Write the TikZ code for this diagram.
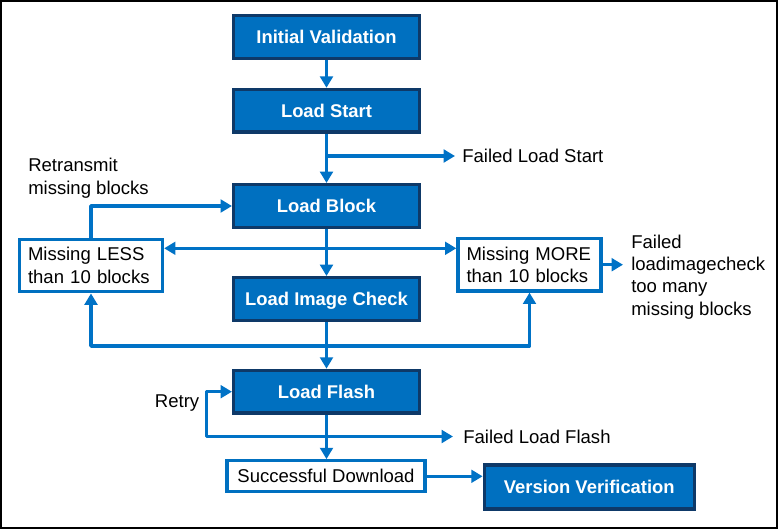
\documentclass[tikz,border=0pt]{standalone}
\usepackage{fontspec}
\setmainfont{Liberation Sans}
\usetikzlibrary{arrows.meta}
\definecolor{boxblue}{RGB}{0,112,192}
\definecolor{navyedge}{RGB}{14,57,104}
\definecolor{lineblue}{RGB}{0,114,198}
\begin{document}
\begin{tikzpicture}[x=0.75pt,y=-0.75pt,
  font=\fontsize{13.9}{16.8}\selectfont,
  bluebox/.style={draw=navyedge, line width=2.5pt, fill=boxblue, text=white,
    font=\fontsize{13.8}{16.8}\selectfont\bfseries, minimum width=139.3pt,
    minimum height=32pt, inner sep=0pt, text height=9.9pt, text depth=0pt},
  whitebox/.style={draw=boxblue, line width=2.4pt, fill=white, align=left,
    inner xsep=6.4pt, inner ysep=0pt, text width=94.5pt, minimum height=39.5pt},
  sdbox/.style={draw=boxblue, line width=2.4pt, fill=white, inner sep=0pt,
    minimum width=148.5pt, minimum height=23.3pt, text height=10pt, text depth=0pt},
  conn/.style={draw=lineblue, line width=2.6pt, line join=round,
    -{Triangle[length=8.5pt,width=9.5pt]}},
  lbl/.style={inner sep=0pt, align=left},
  onelbl/.style={inner sep=0pt, text height=10pt, text depth=0pt}]
\useasboundingbox (0,0) rectangle (778,529);
\draw[line width=1.125pt] (1,1) rectangle (777,528);

% main boxes
\node[bluebox] (iv) at (326.5,37) {Initial Validation};
\node[bluebox] (ls) at (326.5,110.75) {Load Start};
\node[bluebox] (lb) at (326.5,206) {Load Block};
\node[bluebox] (lic) at (326.5,299) {Load Image Check};
\node[bluebox] (lf) at (326.5,391.7) {Load Flash};
\node[sdbox] (sd) at (326,476.3) {Successful Download};
\node[bluebox, minimum width=157.5pt, minimum height=33pt] (vv) at (589.3,487) {Version Verification};
\node[whitebox] (less) at (91,265.5) {Missing LESS\\than 10 blocks};
\node[whitebox] (more) at (529.5,264.7) {Missing MORE\\than 10 blocks};

% labels
\node[onelbl, anchor=west] (flst) at (462,156) {Failed Load Start};
\node[onelbl, anchor=west] (flf) at (463,437) {Failed Load Flash};
\node[onelbl, anchor=east] (retry) at (199.5,400.7) {Retry};
\node[lbl, anchor=west] (rt) at (28,178.3) {Retransmit\\missing blocks};
\node[lbl, anchor=west] (fli) at (631,277) {Failed\\loadimagecheck\\too many\\missing blocks};

% helper coordinates
\coordinate (dy) at (0,248.3);
\coordinate (by) at (0,346);
\coordinate (rx) at (206.7,436.5);

% connectors
\draw[conn] (iv) -- (ls);
\draw[conn] (ls) -- (lb);
\draw[conn] (ls.south |- flst.west) -- ([xshift=-5.25pt]flst.west);
\draw[conn] (lb) -- (lic);
\draw[conn, {Triangle[length=8.5pt,width=9.5pt]}-{Triangle[length=8.5pt,width=9.5pt]}] (less.east |- dy) -- (more.west |- dy);
\draw[conn] (less.north) |- (lb.west);
\draw[conn] (more.east) -- ([xshift=-6pt]more.east -| fli.west);
\draw[conn] (lic) -- (lf);
\draw[conn] (lic.south |- by) -| (less.south);
\draw[conn] (lic.south |- by) -| (more.south);
\draw[conn] (lf.south |- rx) -- (rx) |- (lf.west);
\draw[conn] (lf.south |- rx) -- ([xshift=-7.5pt]rx -| flf.west);
\draw[conn] (lf.south) -- (lf.south |- sd.north);
\draw[conn] (sd.east) -- (sd.east -| vv.west);
\end{tikzpicture}
\end{document}
